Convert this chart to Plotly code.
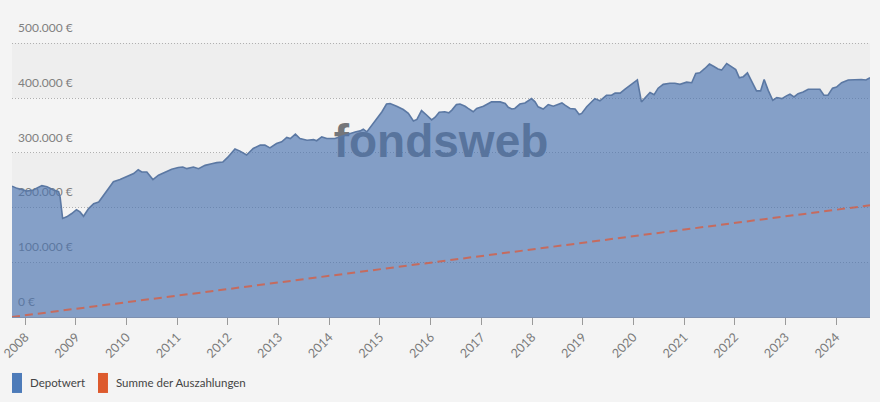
import plotly.graph_objects as go
import pandas as pd

# ---- data ----
depot_years = [2007.74, 2007.84, 2007.93, 2008.03, 2008.16, 2008.26, 2008.33, 2008.43, 2008.56, 2008.66,
               2008.69, 2008.74, 2008.82, 2008.92, 2009.01, 2009.08, 2009.15, 2009.25, 2009.35, 2009.45,
               2009.51, 2009.61, 2009.74, 2009.87, 2010.01, 2010.14, 2010.23, 2010.30, 2010.40, 2010.52,
               2010.63, 2010.76, 2010.89, 2011.02, 2011.11, 2011.19, 2011.32, 2011.42, 2011.55, 2011.68,
               2011.78, 2011.90, 2012.00, 2012.14, 2012.24, 2012.37, 2012.50, 2012.64, 2012.73, 2012.83,
               2012.96, 2013.06, 2013.16, 2013.23, 2013.33, 2013.42, 2013.56, 2013.69, 2013.75, 2013.85,
               2013.95, 2014.11, 2014.25, 2014.38, 2014.51, 2014.61, 2014.67, 2014.74, 2014.84, 2014.94,
               2015.04, 2015.13, 2015.20, 2015.33, 2015.46, 2015.56, 2015.66, 2015.73, 2015.82, 2015.92,
               2016.02, 2016.09, 2016.17, 2016.28, 2016.36, 2016.42, 2016.51, 2016.58, 2016.68, 2016.74,
               2016.84, 2016.91, 2017.04, 2017.14, 2017.20, 2017.37, 2017.47, 2017.53, 2017.60, 2017.66,
               2017.76, 2017.86, 2017.93, 2017.99, 2018.06, 2018.12, 2018.22, 2018.32, 2018.42, 2018.52,
               2018.59, 2018.65, 2018.75, 2018.85, 2018.93, 2018.98, 2019.08, 2019.24, 2019.34, 2019.47,
               2019.57, 2019.64, 2019.74, 2019.83, 2019.97, 2020.08, 2020.16, 2020.26, 2020.33, 2020.41,
               2020.49, 2020.59, 2020.72, 2020.82, 2020.92, 2021.05, 2021.15, 2021.23, 2021.31, 2021.41,
               2021.50, 2021.58, 2021.67, 2021.74, 2021.84, 2021.94, 2022.02, 2022.09, 2022.17, 2022.25,
               2022.33, 2022.43, 2022.51, 2022.58, 2022.66, 2022.75, 2022.83, 2022.93, 2023.02, 2023.09,
               2023.17, 2023.25, 2023.35, 2023.45, 2023.68, 2023.76, 2023.84, 2023.93, 2024.01, 2024.11,
               2024.24, 2024.37, 2024.50, 2024.59, 2024.67]
depot_k = [239, 235, 233, 230, 232, 237, 240, 238, 232, 229,
           219, 180, 183, 189, 196, 192, 184, 198, 207, 210,
           218, 232, 247, 251, 256, 262, 269, 265, 265, 251,
           259, 265, 270, 273, 274, 271, 274, 271, 277, 280,
           282, 283, 292, 307, 303, 296, 308, 314, 314, 309,
           317, 320, 328, 326, 334, 326, 323, 324, 322, 329,
           326, 326, 330, 335, 338, 340, 343, 338, 350, 361,
           375, 389, 390, 385, 379, 372, 358, 361, 377, 369,
           360, 365, 374, 375, 373, 378, 388, 389, 385, 381,
           375, 381, 385, 390, 393, 393, 390, 383, 380, 381,
           389, 391, 395, 399, 393, 384, 380, 388, 385, 389,
           391, 387, 381, 380, 370, 372, 384, 399, 395, 405,
           405, 409, 409, 416, 425, 433, 393, 403, 410, 406,
           418, 425, 427, 427, 425, 429, 428, 445, 446, 454,
           462, 458, 453, 451, 463, 457, 452, 437, 439, 446,
           430, 413, 413, 434, 414, 396, 401, 399, 404, 407,
           402, 408, 411, 416, 416, 405, 405, 418, 420, 428,
           433, 434, 434, 433, 437]

payout_years = [2007.74, 2008, 2009, 2010, 2011, 2012, 2013, 2014, 2015, 2016,
                2017, 2018, 2019, 2020, 2021, 2022, 2023, 2024, 2024.67]
payout_k = [0, 3, 15, 27, 39, 51, 63, 75, 87, 99,
            111, 124, 136, 148, 160, 172, 184, 196, 204]

y_tickvals = [0, 100000, 200000, 300000, 400000, 500000]
y_ticktext = ["0 €", "100.000 €", "200.000 €", "300.000 €", "400.000 €", "500.000 €"]

series_names = ["Depotwert", "Summe der Auszahlungen"]
series_colors = ["#4d7bb9", "#dd5a2d"]


def to_date(y):
    yr = int(y)
    return pd.Timestamp(year=yr, month=1, day=1) + pd.Timedelta(days=(y - yr) * 365.25)


depot_x = [to_date(y) for y in depot_years]
depot_y = [v * 1000 for v in depot_k]
payout_x = [to_date(y) for y in payout_years]
payout_y = [v * 1000 for v in payout_k]

x0, x1 = depot_x[0], depot_x[-1]
ytop = 504200

fig = go.Figure()

# watermark (drawn beneath the area)
fig.add_trace(go.Scatter(
    x=[x0 + (x1 - x0) / 2], y=[0.628 * 500000], mode="text", text=["fondsweb"],
    textfont=dict(family="Liberation Sans", size=46, color="#74767a", weight="bold"),
    textposition="middle center", hoverinfo="skip", showlegend=False,
))

fig.add_trace(go.Scatter(
    x=depot_x, y=depot_y, mode="lines", name=series_names[0],
    fill="tozeroy", fillcolor="rgba(74,115,176,0.65)",
    line=dict(color="#5b78a3", width=1.6), showlegend=False,
))

fig.add_trace(go.Scatter(
    x=payout_x, y=payout_y, mode="lines", name=series_names[1],
    line=dict(color="#d65f45", width=2, dash="8px,5px"), opacity=0.8,
    showlegend=False,
))

shapes = []
# alternating bands
for lo, hi in [(0, 100000), (200000, 300000), (400000, 500000)]:
    shapes.append(dict(type="rect", xref="paper", yref="y", x0=0, x1=1, y0=lo, y1=hi,
                       fillcolor="#eeeeee", line=dict(width=0), layer="below"))

# manual legend
legend_pos = [0.0, 0.1002]
text_pos = [0.0185, 0.1188]
annotations = []
for i in range(2):
    shapes.append(dict(type="rect", xref="paper", yref="paper",
                       xsizemode="pixel", ysizemode="pixel",
                       xanchor=legend_pos[i], yanchor=-0.239,
                       x0=0, x1=10, y0=-10, y1=10,
                       fillcolor=series_colors[i], line=dict(width=0)))
    annotations.append(dict(xref="paper", yref="paper", x=text_pos[i], y=-0.239,
                            xanchor="left", yanchor="middle", showarrow=False,
                            text=series_names[i],
                            font=dict(family="Lato", size=11.5, color="#444444")))

fig.update_layout(
    width=880, height=402,
    margin=dict(l=12, r=10, t=41, b=85),
    paper_bgcolor="#f4f4f4", plot_bgcolor="#f4f4f4",
    font=dict(family="Lato", color="#777777"),
    shapes=shapes, annotations=annotations,
    showlegend=False,
    xaxis=dict(
        type="date", range=[x0, x1],
        tick0="2008-01-01", dtick="M12", tickformat="%Y",
        tickangle=-45, ticks="outside", ticklen=7, tickcolor="#9a9a9a", tickwidth=1,
        tickfont=dict(family="Lato", size=12.5, color="#7a7a7a"),
        showgrid=False, zeroline=False,
        showline=True, linecolor="#7d90b0", linewidth=1,
        automargin=False, ticklabeloverflow="allow",
    ),
    yaxis=dict(
        range=[0, ytop], tickvals=y_tickvals, ticktext=y_ticktext,
        ticklabelposition="inside top", ticklabeloverflow="allow",
        ticklabelshift=-7, ticklabelstandoff=3,
        tickfont=dict(family="Lato", size=12, color="#808080"),
        showgrid=True, gridcolor="#b0b0b0", griddash="1px,2px", gridwidth=1,
        zeroline=False, showline=False, ticks="",
        layer="below traces", automargin=False,
    ),
)

fig.write_html("out.html", config={"displayModeBar": False},
               post_script="document.body.style.margin='0';document.body.style.background='#f4f4f4';")
